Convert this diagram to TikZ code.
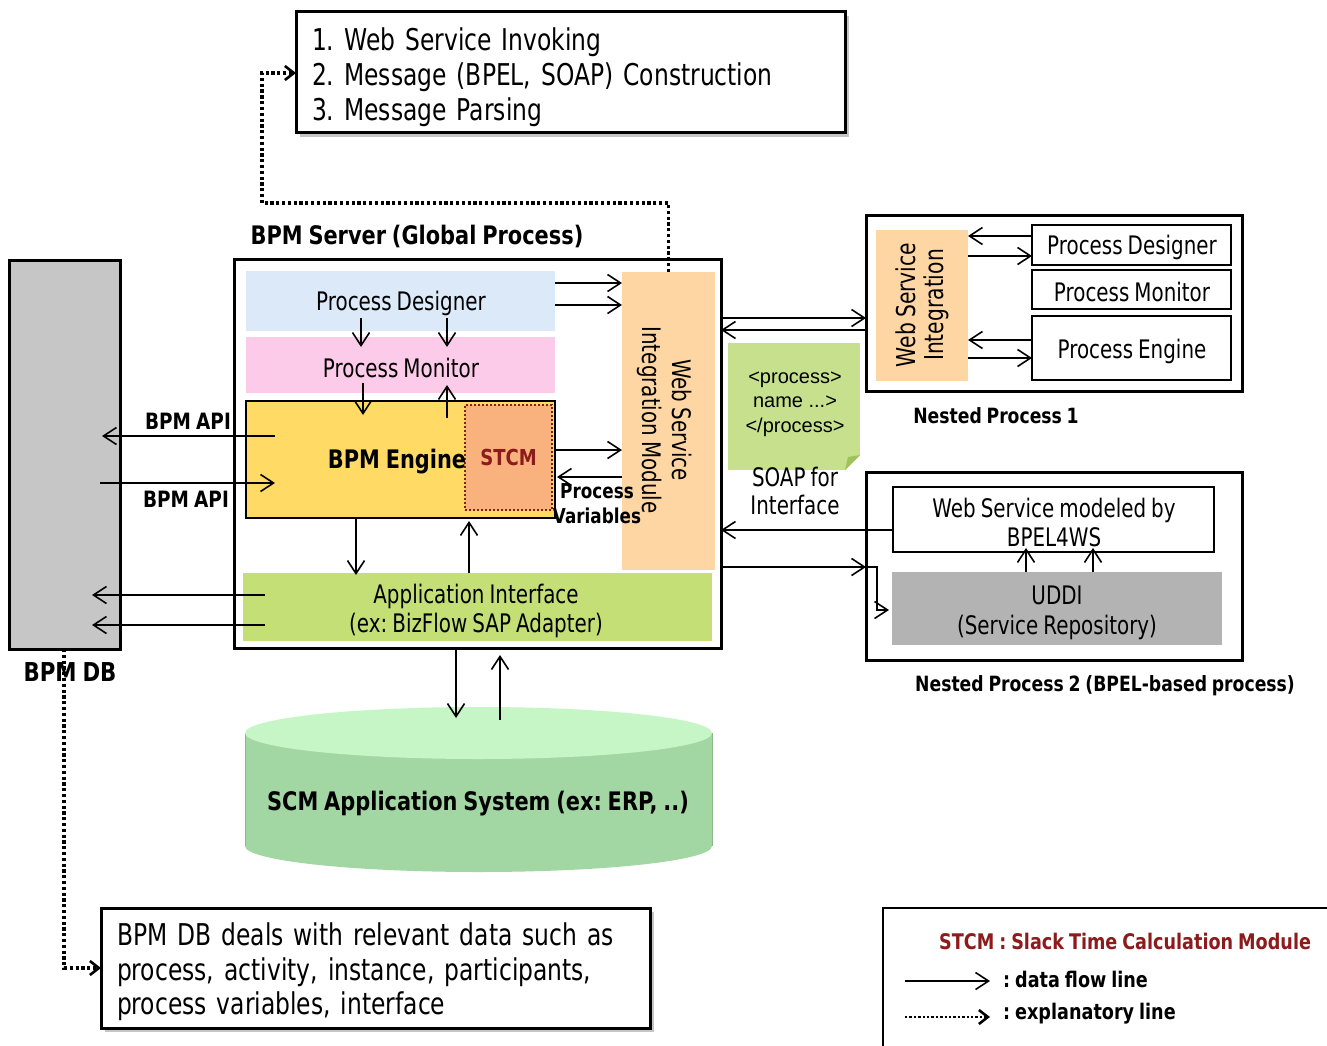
\documentclass[tikz,border=0pt]{standalone}
\usepackage{fontspec}
\setmainfont[FakeStretch=0.78, WordSpace=0.8, BoldFeatures={FakeStretch=0.82}]{DejaVu Sans}
\newfontfamily\arialf{Liberation Sans}
\usetikzlibrary{arrows.meta,calc,shadows}
\newcommand\fsz[2]{\fontsize{#1pt}{#2pt}\selectfont}
\frenchspacing
\definecolor{pdblue}{HTML}{DCE9F8}
\definecolor{pmpink}{HTML}{FCCBE9}
\definecolor{engyellow}{HTML}{FFDA65}
\definecolor{stcmorange}{HTML}{F9B27E}
\definecolor{stcmred}{HTML}{8C1B1B}
\definecolor{wsorange}{HTML}{FDD6A3}
\definecolor{appgreen}{HTML}{C3DF76}
\definecolor{soapgreen}{HTML}{C6E08D}
\definecolor{soapfold}{HTML}{9DC35A}
\definecolor{dbgray}{HTML}{C6C6C6}
\definecolor{uddigray}{HTML}{B3B3B3}
\definecolor{cyltop}{HTML}{C6F6C6}
\definecolor{cylbody}{HTML}{A2D6A2}
\begin{document}
\begin{tikzpicture}[x=1pt,y=-1pt,
  thickbox/.style={draw, line width=3pt, inner sep=0pt, outer sep=0pt},
  band/.style={draw=none, inner sep=0pt, outer sep=0pt},
  thinbox/.style={draw, line width=1.4pt, fill=white, inner sep=0pt, outer sep=0pt},
  flow/.style={line width=1.5pt, -{Straight Barb[length=13pt,width=17pt,line width=1.6pt]}},
  expl/.style={line width=3.2pt, dash pattern=on 3.2pt off 2.6pt, -{Straight Barb[length=9pt,width=14pt,line width=2.6pt]}},
  txt/.style={inner sep=0pt, align=center},
  shad/.style={drop shadow={shadow xshift=4pt, shadow yshift=-4pt, fill=black!45}}
]
\useasboundingbox (0,0) rectangle (1327,1046);
\fill[white] (0,0) rectangle (1327,1046);

% top explanatory box
\node[thickbox, fill=white, shad, minimum width=549pt, minimum height=121pt] (topbox) at (570.5,72.5) {};
\node[inner sep=0pt, text width=517pt, align=left, font=\fsz{30}{35}] (toptxt) at (570.5,77)
  {1. Web Service Invoking\\2. Message (BPEL, SOAP) Construction\\3. Message Parsing};

% BPM server
\node[txt, font=\bfseries\fsz{25.5}{30}] (srvlbl) at (417,236) {BPM Server (Global Process)};
\node[thickbox, fill=white, minimum width=487pt, minimum height=389pt] (srv) at (477.5,453.5) {};

\node[band, fill=pdblue, minimum width=309pt, minimum height=60pt] (pd) at (400.5,301) {};
\node[txt, font=\fsz{25.5}{30}] (pdtxt) at (401,303) {Process Designer};
\node[band, fill=pmpink, minimum width=309pt, minimum height=56pt] (pm) at (400.5,365) {};
\node[txt, font=\fsz{25.5}{30}] (pmtxt) at (401,368) {Process Monitor};
\node[band, draw, line width=1.3pt, fill=engyellow, minimum width=309pt, minimum height=117pt] (eng) at (400.5,459.5) {};
\node[band, draw=stcmred, line width=2pt, dotted, fill=stcmorange, minimum width=87pt, minimum height=105pt, font=\bfseries\fsz{22}{26}, text=stcmred] (stcm) at (508.5,457.5) {STCM};
\node[txt, font=\bfseries\fsz{25.5}{30}] (engtxt) at (397,462) {BPM Engine};

\node[band, fill=wsorange, minimum width=93pt, minimum height=298pt] (wsim) at (668.5,421) {};
\node[txt, rotate=-90, font=\fsz{25.5}{30}] (wsimtxt) at (665,420) {Web Service\\Integration Module};
\node[txt, font=\bfseries\fsz{20.5}{25}] (pvars) at (597,504) {Process\\Variables};

\node[band, fill=appgreen, minimum width=469pt, minimum height=68pt] (app) at (477.5,607) {};
\node[txt, font=\fsz{25.5}{29}] (apptxt) at (476,611) {Application Interface\\(ex: BizFlow SAP Adapter)};

% BPM DB
\node[thickbox, fill=dbgray, minimum width=111pt, minimum height=389pt] (db) at (64.5,454.5) {};
\node[txt, font=\bfseries\fsz{22.5}{26}] (api1) at (188,421) {BPM API};
\node[txt, font=\bfseries\fsz{22.5}{26}] (api2) at (186,499) {BPM API};

% SCM cylinder
\fill[cylbody] (245,733) rectangle (712,846);
\fill[cylbody] (478.5,846) ellipse [x radius=233.5pt, y radius=26pt];
\draw[cylbody!85!black, line width=0.8pt] (245,733) -- (245,846) (712,733) -- (712,846);
\fill[cyltop] (478.5,733) ellipse [x radius=233.5pt, y radius=26pt];
\node[band, minimum width=467pt, minimum height=164pt] (scm) at (478.5,790) {};
\node[txt, font=\bfseries\fsz{25.5}{30}] (scmtxt) at (478,804) {SCM Application System (ex: ERP, ..)};

% bottom explanatory box
\node[thickbox, fill=white, shad, minimum width=549pt, minimum height=120pt] (botbox) at (375.5,968) {};
\node[inner sep=0pt, text width=517pt, align=left, font=\fsz{30}{34.5}] (bottxt) at (375.5,972)
  {BPM DB deals with relevant data such as\\process, activity, instance, participants,\\process variables, interface};
\node[txt, font=\bfseries\fsz{26}{30}] (dblbl) at (70,672) {BPM DB};

% Nested process 1
\node[thickbox, fill=white, minimum width=376pt, minimum height=176pt] (np1) at (1054,303) {};
\node[band, fill=wsorange, minimum width=92pt, minimum height=151pt] (wsi1) at (922,305.5) {};
\node[txt, rotate=90, font=\fsz{26}{28}] (wsi1txt) at (922,305) {Web Service\\Integration};
\node[thinbox, minimum width=199pt, minimum height=40pt] (pd1) at (1131.5,245) {};
\node[txt, font=\fsz{25.5}{30}] (pd1txt) at (1132,247) {Process Designer};
\node[thinbox, minimum width=199pt, minimum height=39pt] (pm1) at (1131.5,289.5) {};
\node[txt, font=\fsz{25.5}{30}] (pm1txt) at (1132,292) {Process Monitor};
\node[thinbox, minimum width=199pt, minimum height=64pt] (pe1) at (1131.5,348) {};
\node[txt, font=\fsz{25.5}{30}] (pe1txt) at (1132,351) {Process Engine};
\node[txt, font=\bfseries\fsz{21}{24}] (np1lbl) at (996,416) {Nested Process 1};

% SOAP note
\node[band, fill=soapgreen, minimum width=132pt, minimum height=127pt] (soap) at (794,406.5) {};
\fill[white] (845,470.5) -- (860.5,470.5) -- (860.5,455) -- cycle;
\fill[soapfold] (845,470) -- (860,455) -- (848,457) -- cycle;
\node[txt, font=\arialf\fsz{20}{24.5}] (soaptxt) at (795,404) {<process>\\name ...>\\</process>};
\node[txt, font=\fsz{25.5}{28}] (soaplbl) at (795,491) {SOAP for\\Interface};

% Nested process 2
\node[thickbox, fill=white, minimum width=376pt, minimum height=188pt] (np2) at (1054,566) {};
\node[thinbox, minimum width=321pt, minimum height=65pt] (ws2) at (1053.5,519.5) {};
\node[txt, font=\fsz{25.5}{29}] (ws2txt) at (1054,522) {Web Service modeled by\\BPEL4WS};
\node[band, fill=uddigray, minimum width=330pt, minimum height=73pt] (uddi) at (1057,608.5) {};
\node[txt, font=\fsz{25.5}{30}] (udditxt) at (1057,613) {UDDI\\(Service Repository)};
\node[txt, font=\bfseries\fsz{21}{24}] (np2lbl) at (1105,686) {Nested Process 2 (BPEL-based process)};

% arrows inside BPM server
\draw[flow] (pd.east |- 0,283) -- (wsim.west |- 0,283);
\draw[flow] (pd.east |- 0,305) -- (wsim.west |- 0,305);
\draw[flow] ($(pd.south -| 361,0)+(0,-13)$) -- ($(pm.north -| 361,0)+(0,10)$);
\draw[flow] ($(pd.south -| 447,0)+(0,-13)$) -- ($(pm.north -| 447,0)+(0,10)$);
\draw[flow] ($(pm.south -| 363,0)+(0,-10)$) -- ($(eng.north -| 363,0)+(0,14)$);
\draw[flow] ($(eng.north -| 447,0)+(0,17)$) -- ($(pm.south -| 447,0)+(0,-8)$);
\draw[flow] (eng.east |- 0,450) -- (wsim.west |- 0,450);
\draw[flow] (wsim.west |- 0,477) -- ($(eng.east |- 0,477)+(2,0)$);
\draw[flow] (eng.south -| 356,0) -- ($(app.north -| 356,0)+(0,2)$);
\draw[flow] (app.north -| 469,0) -- ($(eng.south -| 469,0)+(0,3)$);

% BPM API / DB arrows
\draw[flow] ($(eng.west |- 0,436)+(29,0)$) -- ($(db.east |- 0,436)+(-18,0)$);
\draw[flow] ($(db.east |- 0,483)+(-20,0)$) -- ($(eng.west |- 0,483)+(29,0)$);
\draw[flow] ($(app.west |- 0,595)+(22,0)$) -- ($(db.east |- 0,595)+(-28,0)$);
\draw[flow] ($(app.west |- 0,625)+(22,0)$) -- ($(db.east |- 0,625)+(-28,0)$);

% App <-> SCM
\draw[flow] (srv.south -| 456,0) -- ($(scm.north -| 456,0)+(0,10)$);
\draw[flow] ($(scm.north -| 500,0)+(0,12)$) -- ($(srv.south -| 500,0)+(0,7)$);

% Main <-> nested processes
\draw[flow] (srv.east |- 0,318) -- (np1.west |- 0,318);
\draw[flow] (np1.west |- 0,330) -- (srv.east |- 0,330);
\draw[flow] (pd1.west |- 0,236) -- (wsi1.east |- 0,236);
\draw[flow] (wsi1.east |- 0,256) -- (pd1.west |- 0,256);
\draw[flow] (pe1.west |- 0,340) -- (wsi1.east |- 0,340);
\draw[flow] (wsi1.east |- 0,358) -- (pe1.west |- 0,358);
\draw[flow] (ws2.west |- 0,530) -- (srv.east |- 0,530);
\draw[flow] (srv.east |- 0,567) -- (np2.west |- 0,567);
\draw[flow] (np2.west |- 0,567) -- ++(11,0) |- ($(uddi.west |- 0,610)+(-3,0)$);
\draw[flow] (uddi.north -| 1026,0) -- ($(ws2.south -| 1026,0)+(0,-4)$);
\draw[flow] (uddi.north -| 1093,0) -- ($(ws2.south -| 1093,0)+(0,-4)$);

% explanatory lines
\coordinate (bend1) at (262,203);
\draw[expl] (wsim.north) |- (bend1) |- (topbox.west |- 0,73);
\draw[expl] (db.south -| 64,0) |- (botbox.west |- 0,968);

% legend
\draw[line width=1.5pt] (883,1060) -- (883,908) -- (1340,908);
\node[anchor=west, inner sep=0pt, font=\bfseries\fsz{21.5}{24}, text=stcmred] (lgstcm) at (939,941) {STCM : Slack Time Calculation Module};
\coordinate (lg1a) at (905,981); \coordinate (lg1b) at (990,981);
\coordinate (lg2a) at (905,1017); \coordinate (lg2b) at (990,1017);
\draw[flow] (lg1a) -- (lg1b);
\draw[expl, line width=2.4pt, dash pattern=on 2.4pt off 2pt] (lg2a) -- (lg2b);
\node[anchor=west, inner sep=0pt, font=\bfseries\fsz{21.5}{24}] (lgflow) at (1003,979) {: data flow line};
\node[anchor=west, inner sep=0pt, font=\bfseries\fsz{21.5}{24}] (lgexpl) at (1003,1014) {: explanatory line};
\end{tikzpicture}
\end{document}
